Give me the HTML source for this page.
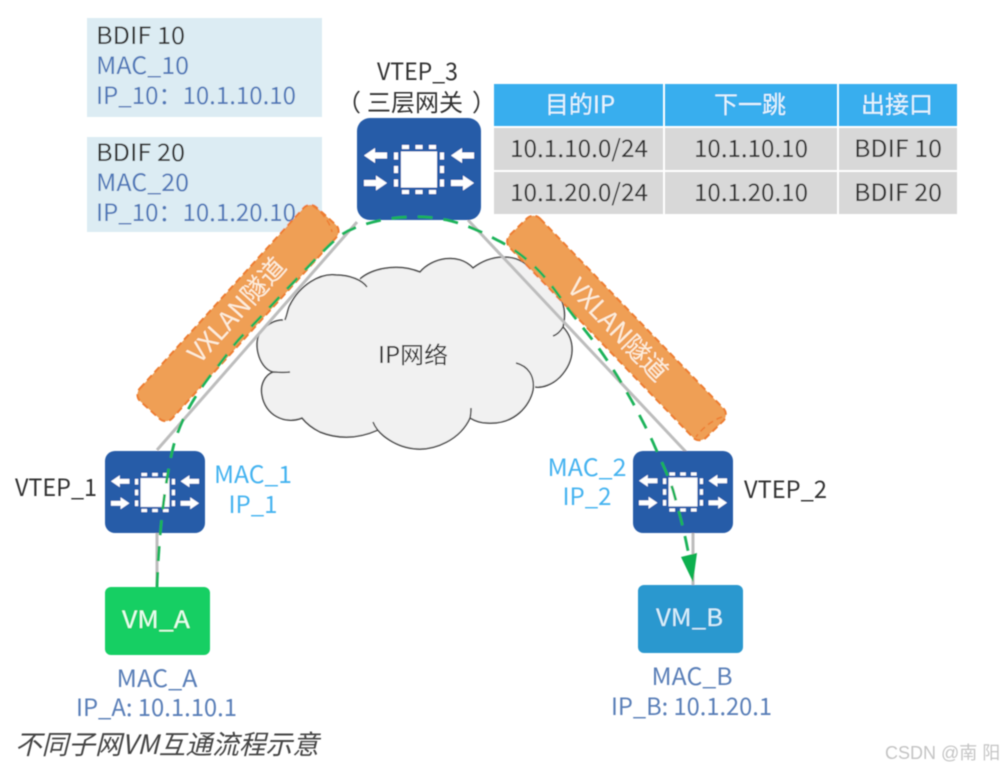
<!DOCTYPE html>
<html><head><meta charset="utf-8"><style>
html,body{margin:0;padding:0;background:#fff}
svg{display:block}
text{font-family:"Noto Sans CJK SC","Liberation Sans",sans-serif;font-size:24px;text-spacing-trim:space-all}
</style></head><body>
<svg width="1005" height="771" viewBox="0 0 1005 771" xmlns="http://www.w3.org/2000/svg">
<defs>
<filter id="b" x="-5%" y="-5%" width="110%" height="110%"><feGaussianBlur stdDeviation="0.55"/></filter>
<g id="ic" fill="#fff">
<rect x="-18" y="-18" width="36" height="36"/>
<rect x="-17" y="-24.500" width="7" height="4"/><rect x="-3.500" y="-24.500" width="7" height="4"/><rect x="10" y="-24.500" width="7" height="4"/>
<rect x="-17" y="20.500" width="7" height="4"/><rect x="-3.500" y="20.500" width="7" height="4"/><rect x="10" y="20.500" width="7" height="4"/>
<rect x="-25" y="-17" width="4" height="7"/><rect x="-25" y="-3.500" width="4" height="7"/><rect x="-25" y="10" width="4" height="7"/>
<rect x="21" y="-17" width="4" height="7"/><rect x="21" y="-3.500" width="4" height="7"/><rect x="21" y="10" width="4" height="7"/>
<path d="M-55 -14l11-7.500v4.500h12v6h-12v4.500z"/>
<path d="M32 -14l11-7.500v4.500h12v6h-12v4.500z"/>
<path d="M-32 13.500l-11-7.500v4.500h-12v6h12v4.500z"/>
<path d="M55 13.500l-11-7.500v4.500h-12v6h12v4.500z"/>
</g>
</defs>
<rect width="1005" height="771" fill="#fff"/>
<g filter="url(#b)">
<rect x="87" y="18" width="235" height="99" fill="#dcecf3"/>
<rect x="87" y="137" width="235" height="95" fill="#dcecf3"/>
<text x="96" y="44" fill="#333" textLength="89" lengthAdjust="spacingAndGlyphs">BDIF 10</text>
<text x="96" y="74" fill="#4f78b8" textLength="93" lengthAdjust="spacingAndGlyphs">MAC_10</text>
<text x="96" y="104" fill="#4f78b8" textLength="200" lengthAdjust="spacingAndGlyphs">IP_10：10.1.10.10</text>
<text x="96" y="161" fill="#333" textLength="89" lengthAdjust="spacingAndGlyphs">BDIF 20</text>
<text x="96" y="191" fill="#4f78b8" textLength="93" lengthAdjust="spacingAndGlyphs">MAC_20</text>
<text x="96" y="221" fill="#4f78b8" textLength="200" lengthAdjust="spacingAndGlyphs">IP_10：10.1.20.10</text>

<rect x="494" y="84" width="169" height="42" fill="#38aeee"/>
<rect x="665" y="84" width="172" height="42" fill="#38aeee"/>
<rect x="839" y="84" width="118" height="42" fill="#38aeee"/>
<rect x="494" y="128" width="169" height="42" fill="#d8d8d8"/>
<rect x="665" y="128" width="172" height="42" fill="#d8d8d8"/>
<rect x="839" y="128" width="118" height="42" fill="#d8d8d8"/>
<rect x="494" y="172" width="169" height="42" fill="#d8d8d8"/>
<rect x="665" y="172" width="172" height="42" fill="#d8d8d8"/>
<rect x="839" y="172" width="118" height="42" fill="#d8d8d8"/>
<g text-anchor="middle" fill="#e8f5fd">
<text x="580" y="113">目的IP</text><text x="750" y="113">下一跳</text><text x="897" y="113">出接口</text>
</g>
<g text-anchor="middle" fill="#333">
<text x="579" y="157" textLength="138" lengthAdjust="spacingAndGlyphs">10.1.10.0/24</text><text x="751" y="157" textLength="114" lengthAdjust="spacingAndGlyphs">10.1.10.10</text><text x="898" y="157" textLength="88" lengthAdjust="spacingAndGlyphs">BDIF 10</text>
<text x="579" y="201" textLength="138" lengthAdjust="spacingAndGlyphs">10.1.20.0/24</text><text x="751" y="201" textLength="114" lengthAdjust="spacingAndGlyphs">10.1.20.10</text><text x="898" y="201" textLength="88" lengthAdjust="spacingAndGlyphs">BDIF 20</text>
</g>

<path d="M283 320C287 312 288 308 290 305C300 285 320 273 336 275C346 275 355 276 360 279C370 270 395 262 420 272C432 258 458 252 473 268C490 255 515 252 530 268C552 282 570 300 563 327C575 340 576 360 560 377C552 385 542 388 533 387C530 405 515 425 487 423C480 423 475 421 470 418C460 440 435 450 417 449C400 448 385 440 378 430C360 438 340 440 320 432C312 428 306 423 302 418C285 425 265 415 262 395C260 385 265 375 273 372C258 368 252 340 262 330C268 324 275 320 283 320Z" fill="#f1f1f1"/>
<g fill="none" stroke="#444" stroke-width="1.500">
<path d="M285 320C288 312 288 308 290 305C300 285 320 273 336 275C350 275 362 280 367 287"/>
<path d="M360 279C370 270 395 262 420 272C432 258 458 252 473 268C490 255 515 252 530 268C552 282 570 300 563 327C560 332 556 335 553 336"/>
<path d="M563 327C575 340 576 360 560 377C552 385 542 388 535 387"/>
<path d="M516 363C528 366 535 376 533 390C530 405 515 425 487 423C480 423 475 421 470 418C471 414 471 411 471 408"/>
<path d="M470 418C460 440 435 450 417 449C397 448 378 435 373 422"/>
<path d="M378 430C360 438 340 440 320 432C312 428 306 423 302 418C285 425 265 415 262 395C260 385 265 375 273 372C278 372 284 373 290 372"/>
<path d="M273 372C258 368 252 340 262 330C268 324 275 320 283 320"/>
</g>
<text x="413" y="363" text-anchor="middle" fill="#333" textLength="70" lengthAdjust="spacingAndGlyphs" style="font-size:23px">IP网络</text>

<g stroke="#bdbdbd" stroke-width="3" fill="none">
<path d="M357 222L157 450"/><path d="M468 220L686 452"/>
<path d="M157 533V587"/><path d="M693 533V585"/>
</g>

<g fill="#ef9f55" stroke="#ed7d31" stroke-width="2" stroke-dasharray="7 4">
<rect x="-131" y="-22" width="262" height="44" rx="9" transform="translate(238,313) rotate(-47.800)"/>
<rect x="-141" y="-21" width="282" height="42" rx="9" transform="translate(616.500,328) rotate(46)"/>
</g>
<path d="M313 206C322 212 330 222 332 232" fill="none" stroke="#ed7d31" stroke-width="1.500" stroke-dasharray="6 4"/>
<path d="M722 417C713 420 702 428 696 437" fill="none" stroke="#ed7d31" stroke-width="1.500" stroke-dasharray="6 4"/>
<text x="0" y="9" text-anchor="middle" fill="#fdeedd" transform="translate(237,310) rotate(-47.800)" style="font-size:26px">VXLAN隧道</text>
<text x="0" y="9" text-anchor="middle" fill="#fdeedd" transform="translate(618,330) rotate(46)" style="font-size:26px">VXLAN隧道</text>

<rect x="357" y="118" width="124" height="102" rx="13" fill="#265ca8"/>
<use href="#ic" transform="translate(419,169.500)"/>
<rect x="105" y="451" width="100" height="82" rx="10" fill="#265ca8"/>
<use href="#ic" transform="translate(155,492.500) scale(0.800)"/>
<rect x="633" y="451" width="100" height="82" rx="10" fill="#265ca8"/>
<use href="#ic" transform="translate(683,492) scale(0.800)"/>

<rect x="105" y="587" width="105" height="68" rx="6" fill="#15cf63"/>
<rect x="638" y="585" width="105" height="68" rx="6" fill="#2b98cf"/>
<text x="156" y="628" text-anchor="middle" fill="#eafff2" textLength="68" lengthAdjust="spacingAndGlyphs">VM_A</text>
<text x="689.500" y="626" text-anchor="middle" fill="#d9f0fb" textLength="67" lengthAdjust="spacingAndGlyphs">VM_B</text>

<path d="M157 587C158 550 163 490 173 448C180 420 195 395 213 372C225 358 233 345 243 335C258 320 270 307 283 293C300 276 318 255 337 238C345 232 353 228 363 225C378 220 395 217 410 217C425 216 436 218 447 220C465 224 482 232 497 240C510 246 523 256 533 265C547 278 557 293 567 307C578 322 590 336 600 350C612 367 623 385 633 403C642 420 650 435 655 447C663 465 668 475 673 490C680 515 684 530 689 556" fill="none" stroke="#1bb35a" stroke-width="2.800" stroke-dasharray="15 11"/>
<path d="M681 557L697 553L693 582Z" fill="#11b04f"/>

<text x="377" y="80" fill="#333" textLength="81" lengthAdjust="spacingAndGlyphs">VTEP_3</text>
<text y="111" fill="#333"><tspan x="337">（</tspan><tspan x="367">三层网关</tspan><tspan x="472">）</tspan></text>
<text x="15" y="496" fill="#333" textLength="82" lengthAdjust="spacingAndGlyphs">VTEP_1</text>
<text x="744" y="498" fill="#333" textLength="83" lengthAdjust="spacingAndGlyphs">VTEP_2</text>
<text x="253" y="483" text-anchor="middle" fill="#45b3f0" textLength="78" lengthAdjust="spacingAndGlyphs">MAC_1</text>
<text x="253" y="513" text-anchor="middle" fill="#45b3f0">IP_1</text>
<text x="587" y="476" text-anchor="middle" fill="#45b3f0" textLength="79" lengthAdjust="spacingAndGlyphs">MAC_2</text>
<text x="587" y="505" text-anchor="middle" fill="#45b3f0">IP_2</text>
<text x="157" y="687" text-anchor="middle" fill="#5a7fb8" textLength="81" lengthAdjust="spacingAndGlyphs">MAC_A</text>
<text x="156.500" y="716" text-anchor="middle" fill="#5a7fb8" textLength="161" lengthAdjust="spacingAndGlyphs">IP_A: 10.1.10.1</text>
<text x="692" y="685" text-anchor="middle" fill="#5a7fb8" textLength="81" lengthAdjust="spacingAndGlyphs">MAC_B</text>
<text x="691.500" y="715" text-anchor="middle" fill="#5a7fb8" textLength="161" lengthAdjust="spacingAndGlyphs">IP_B: 10.1.20.1</text>
<text x="15" y="754" fill="#444" style="font-size:26.700px;font-style:italic">不同子网VM互通流程示意</text>
<text x="885" y="759" fill="#c4c4c4" style="font-size:18px;font-family:'Liberation Sans','Noto Sans CJK SC',sans-serif">CSDN @南 阳</text>
</g>
</svg>
</body></html>
